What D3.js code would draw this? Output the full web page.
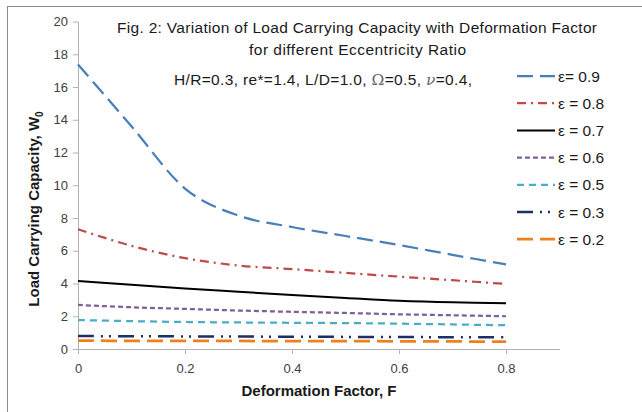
<!DOCTYPE html>
<html lang="en">
<head>
  <meta charset="UTF-8">
  <title>Load Carrying Capacity vs Deformation Factor</title>
  <script src="https://d3js.org/d3.v7.min.js"></script>
  <style>
    html, body { margin: 0; padding: 0; background: #fff; }
    svg { display: block; font-family: "Liberation Sans", Arial, sans-serif; }
    .tick text { fill: #404040; font-size: 13px; }
    .axis path, .axis line { stroke: #b3b3b3; }
  </style>
</head>
<body>
  <svg width="642" height="412"></svg>
  <script>
    // deformation factor F
    const F = [0, 0.1, 0.2, 0.3, 0.4, 0.5, 0.6, 0.7, 0.8];

    // load carrying capacity W0, one array per eccentricity ratio
    const w09 = [17.38, 13.6, 9.8, 8.15, 7.45, 6.9, 6.35, 5.75, 5.17];
    const w08 = [7.31, 6.3, 5.55, 5.1, 4.88, 4.65, 4.42, 4.2, 3.97];
    const w07 = [4.15, 3.92, 3.7, 3.5, 3.3, 3.12, 2.95, 2.85, 2.8];
    const w06 = [2.69, 2.55, 2.45, 2.35, 2.27, 2.2, 2.12, 2.06, 2.0];
    const w05 = [1.77, 1.7, 1.65, 1.62, 1.6, 1.58, 1.55, 1.5, 1.45];
    const w03 = [0.79, 0.78, 0.77, 0.76, 0.75, 0.74, 0.73, 0.72, 0.71];
    const w02 = [0.51, 0.5, 0.5, 0.49, 0.48, 0.48, 0.47, 0.46, 0.45];

    const seriesNames = ["ε= 0.9", "ε = 0.8", "ε = 0.7", "ε = 0.6", "ε = 0.5", "ε = 0.3", "ε = 0.2"];
    const xTicks = [0, 0.2, 0.4, 0.6, 0.8];
    const yTicks = [0, 2, 4, 6, 8, 10, 12, 14, 16, 18, 20];

    const styles = [
      { color: "#4a7ebb", width: 2.25, dash: "16,7" },
      { color: "#be4b48", width: 2.25, dash: "9,5,2,5" },
      { color: "#000000", width: 2,    dash: null },
      { color: "#7d60a0", width: 2.25, dash: "5,3" },
      { color: "#4bacc6", width: 2.25, dash: "7,5" },
      { color: "#1c2f66", width: 2.5,  dash: "16,7,2,6,2,7" },
      { color: "#f0801e", width: 2.75, dash: "16,7" }
    ];
    const allSeries = [w09, w08, w07, w06, w05, w03, w02];

    const svg = d3.select("svg");

    // outer chart frame (runs off the picture right and bottom)
    svg.append("rect").attr("x", 7.5).attr("y", 6.5).attr("width", 700).attr("height", 500)
      .attr("fill", "none").attr("stroke", "#8c8c8c");

    const x = d3.scaleLinear().domain([0, 0.9]).range([78, 559.5]);
    const y = d3.scaleLinear().domain([0, 20]).range([349, 21.5]);

    svg.append("g").attr("class", "axis").attr("transform", "translate(0,349)")
      .call(d3.axisBottom(x).tickValues(xTicks).tickSize(5).tickSizeOuter(0).tickFormat(d3.format("")))
      .call(g => g.selectAll(".tick text").attr("dy", "1.25em"));
    svg.append("g").attr("class", "axis").attr("transform", "translate(78,0)")
      .call(d3.axisLeft(y).tickValues(yTicks).tickSize(5).tickSizeOuter(0))
      .call(g => g.selectAll(".tick text").attr("x", -10));
    svg.selectAll(".axis").attr("font-family", null).attr("font-size", null);

    const line = d3.line().x((d, i) => x(F[i])).y(d => y(d)).curve(d3.curveCatmullRom.alpha(0));

    svg.append("g").selectAll("path").data(allSeries).join("path")
      .attr("d", line)
      .attr("fill", "none")
      .attr("stroke", (d, i) => styles[i].color)
      .attr("stroke-width", (d, i) => styles[i].width)
      .attr("stroke-dasharray", (d, i) => styles[i].dash);

    // legend
    const leg = svg.append("g");
    seriesNames.forEach((name, i) => {
      const ly = 76 + i * 27.2;
      leg.append("line").attr("x1", 517).attr("x2", 555).attr("y1", ly).attr("y2", ly)
        .attr("stroke", styles[i].color).attr("stroke-width", styles[i].width)
        .attr("stroke-dasharray", styles[i].dash);
      leg.append("text").attr("x", 558).attr("y", ly + 5.5).attr("font-size", 15.5)
        .attr("fill", "#1a1a1a").text(name);
    });

    // title
    svg.append("text").attr("x", 117).attr("y", 33)
      .attr("font-size", 15.5).attr("fill", "#1a1a1a")
      .attr("textLength", 480).attr("lengthAdjust", "spacing")
      .text("Fig. 2: Variation of Load Carrying Capacity with Deformation Factor");
    svg.append("text").attr("x", 249).attr("y", 55)
      .attr("font-size", 15.5).attr("fill", "#1a1a1a")
      .attr("textLength", 217).attr("lengthAdjust", "spacing")
      .text("for different Eccentricity Ratio");
    const p = svg.append("text").attr("x", 174).attr("y", 85).attr("font-size", 15.5).attr("fill", "#1a1a1a")
      .attr("textLength", 298).attr("lengthAdjust", "spacing");
    p.append("tspan").text("H/R=0.3, re*=1.4, L/D=1.0, ");
    p.append("tspan").attr("font-family", "DejaVu Serif").attr("fill", "#666").text("Ω");
    p.append("tspan").text("=0.5, ");
    p.append("tspan").attr("font-family", "DejaVu Serif").attr("font-style", "italic").attr("fill", "#666").text("ν");
    p.append("tspan").text("=0.4,");

    // axis titles
    svg.append("text").attr("x", 319).attr("y", 396).attr("text-anchor", "middle")
      .attr("font-size", 15).attr("font-weight", "bold").attr("fill", "#1a1a1a")
      .text("Deformation Factor, F");
    const yt = svg.append("text").attr("transform", "translate(39,209) rotate(-90)")
      .attr("text-anchor", "middle").attr("font-size", 15).attr("font-weight", "bold").attr("fill", "#1a1a1a");
    yt.append("tspan").text("Load Carrying Capacity, W");
    yt.append("tspan").attr("font-size", 10).attr("dy", 4).text("0");
  </script>
</body>
</html>
